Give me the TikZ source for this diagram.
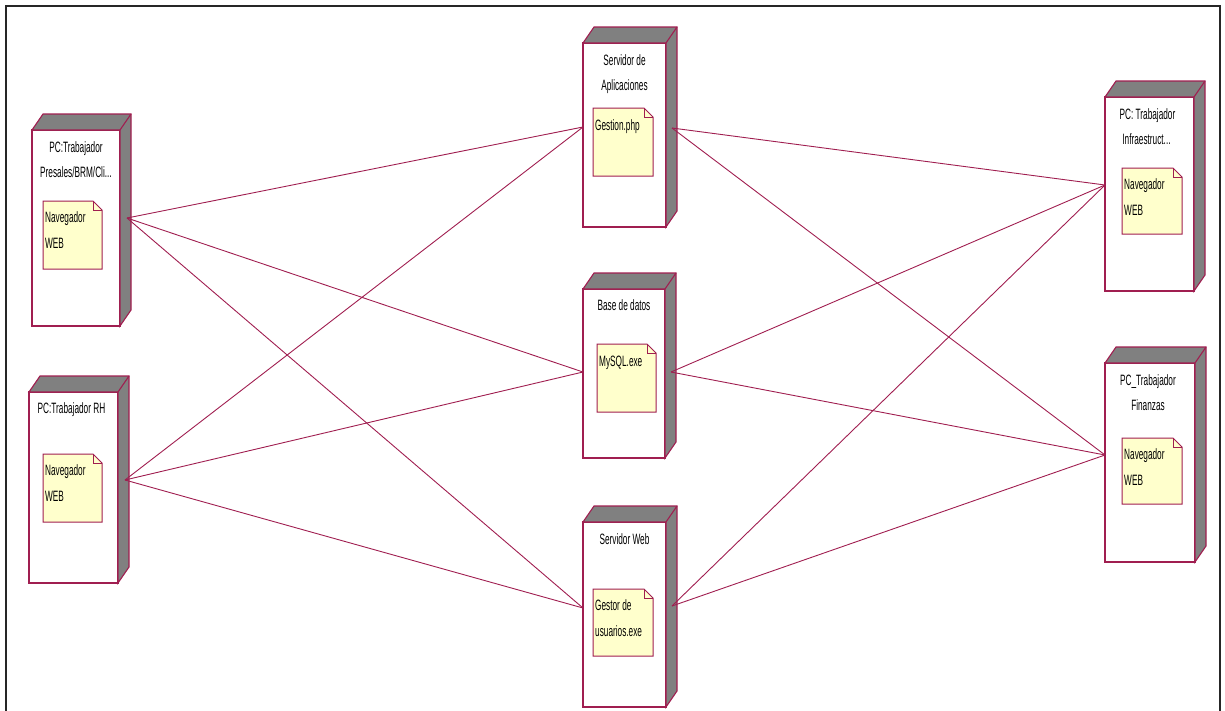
\documentclass[tikz,border=0pt]{standalone}
\usepackage{fontspec}
\newfontfamily\nf[FakeStretch=0.55]{Liberation Sans}
\usetikzlibrary{calc}
\definecolor{rose}{RGB}{160,30,80}
\definecolor{shadowgray}{RGB}{128,128,128}
\definecolor{artfill}{RGB}{255,255,204}
\tikzset{
  front/.style={draw=rose, line width=1.1pt, fill=white, anchor=north west, inner sep=0, outer sep=0},
  side/.style={draw=rose, line width=1.1pt, fill=shadowgray},
  ttl/.style={font=\nf\fontsize{15}{25}\selectfont, anchor=base, inner sep=0},
  atxt/.style={font=\nf\fontsize{15}{25}\selectfont, anchor=base west, inner sep=0},
  art/.style={draw=none, anchor=north west, inner sep=0, outer sep=0, minimum width=59pt, minimum height=68pt},
  conn/.style={draw=rose, line width=0.9pt},
  frame/.style={draw=black!85, line width=2pt}
}
\newcommand{\cubeback}[1]{%
  \filldraw[side] (#1.north west) -- ($(#1.north west)+(11,-16)$) -- ($(#1.north east)+(11,-16)$)
    -- ($(#1.south east)+(11,-16)$) -- (#1.south east) -- (#1.north east) -- cycle;
  \draw[side] (#1.north east) -- ($(#1.north east)+(11,-16)$);
}
\newcommand{\artshape}[1]{%
  \filldraw[draw=rose, line width=1pt, fill=artfill] (#1.north west) -- ($(#1.north east)+(-9,0)$)
    -- ($(#1.north east)+(0,9)$) -- (#1.south east) -- (#1.south west) -- cycle;
  \draw[draw=rose, line width=1pt] ($(#1.north east)+(-9,0)$) -- ($(#1.north east)+(-9,9)$) -- ($(#1.north east)+(0,9)$);
}
\begin{document}
\begin{tikzpicture}[x=1pt,y=-1pt]
\useasboundingbox (0,0) rectangle (1225,710);
\draw[frame] (6,712) -- (6,6) -- (1220,6) -- (1220,712);

% ---- nodes (front faces)
\node[front, minimum width=88pt, minimum height=196pt] (n1) at (32,130) {};
\node[front, minimum width=89pt, minimum height=191pt] (n2) at (29,392) {};
\node[front, minimum width=83pt, minimum height=184pt] (n3) at (583,43) {};
\node[front, minimum width=82pt, minimum height=169pt] (n4) at (583,289) {};
\node[front, minimum width=83pt, minimum height=185pt] (n5) at (583,522) {};
\node[front, minimum width=89pt, minimum height=194pt] (n6) at (1105,97) {};
\node[front, minimum width=90pt, minimum height=199pt] (n7) at (1105,363) {};
\foreach \n in {n1,n2,n3,n4,n5,n6,n7}{\cubeback{\n}}

% ---- titles
\node[ttl] (t1a) at ($(n1.north)+(0,22)$) {PC:Trabajador};
\node[ttl] (t1b) at ($(n1.north)+(0,47)$) {Presales/BRM/Cli...};
\node[ttl] (t2a) at ($(n2.north)+(-2,21)$) {PC:Trabajador RH};
\node[ttl] (t3a) at ($(n3.north)+(0,22)$) {Servidor de};
\node[ttl] (t3b) at ($(n3.north)+(0,47)$) {Aplicaciones};
\node[ttl] (t4a) at ($(n4.north)+(0,21)$) {Base de datos};
\node[ttl] (t5a) at ($(n5.north)+(0,22)$) {Servidor Web};
\node[ttl] (t6a) at ($(n6.north)+(-2,22)$) {PC: Trabajador};
\node[ttl] (t6b) at ($(n6.north)+(-3,47)$) {Infraestruct...};
\node[ttl] (t7a) at ($(n7.north)+(-2,22)$) {PC\_Trabajador};
\node[ttl] (t7b) at ($(n7.north)+(-2,47)$) {Finanzas};

% ---- artifacts
\node[art] (a1) at (43,201) {};
\node[art] (a2) at (43,454) {};
\node[art, minimum width=60pt] (a3) at (593,108) {};
\node[art] (a4) at (597,344) {};
\node[art, minimum width=60pt, minimum height=67pt] (a5) at (593,589) {};
\node[art, minimum width=60pt, minimum height=66pt] (a6) at (1122,168) {};
\node[art, minimum width=60pt, minimum height=66pt] (a7) at (1122,438) {};
\foreach \a in {a1,a2,a3,a4,a5,a6,a7}{\artshape{\a}}

\node[atxt] (x1a) at ($(a1.north west)+(2,21)$) {Navegador};
\node[atxt] (x1b) at ($(a1.north west)+(2,47)$) {WEB};
\node[atxt] (x2a) at ($(a2.north west)+(2,21)$) {Navegador};
\node[atxt] (x2b) at ($(a2.north west)+(2,47)$) {WEB};
\node[atxt] (x3a) at ($(a3.north west)+(2,22)$) {Gestion.php};
\node[atxt] (x4a) at ($(a4.north west)+(2,22)$) {MySQL.exe};
\node[atxt] (x5a) at ($(a5.north west)+(2,21)$) {Gestor de};
\node[atxt] (x5b) at ($(a5.north west)+(2,47)$) {usuarios.exe};
\node[atxt] (x6a) at ($(a6.north west)+(2,21)$) {Navegador};
\node[atxt] (x6b) at ($(a6.north west)+(2,47)$) {WEB};
\node[atxt] (x7a) at ($(a7.north west)+(2,21)$) {Navegador};
\node[atxt] (x7b) at ($(a7.north west)+(2,47)$) {WEB};

% ---- connection points
\coordinate (p1) at (127,218);
\coordinate (p2) at (125,480);
\coordinate (p3l) at (583,127);
\coordinate (p3r) at (672,128);
\coordinate (p4l) at (583,372);
\coordinate (p4r) at (671,372);
\coordinate (p5l) at (583,608);
\coordinate (p5r) at (672,606);
\coordinate (p6) at (1105,185);
\coordinate (p7) at (1105,455);

\foreach \s in {p1,p2}{
  \foreach \t in {p3l,p4l,p5l}{\draw[conn] (\s) -- (\t);}
}
\foreach \s in {p3r,p4r,p5r}{
  \foreach \t in {p6,p7}{\draw[conn] (\s) -- (\t);}
}
\end{tikzpicture}
\end{document}
